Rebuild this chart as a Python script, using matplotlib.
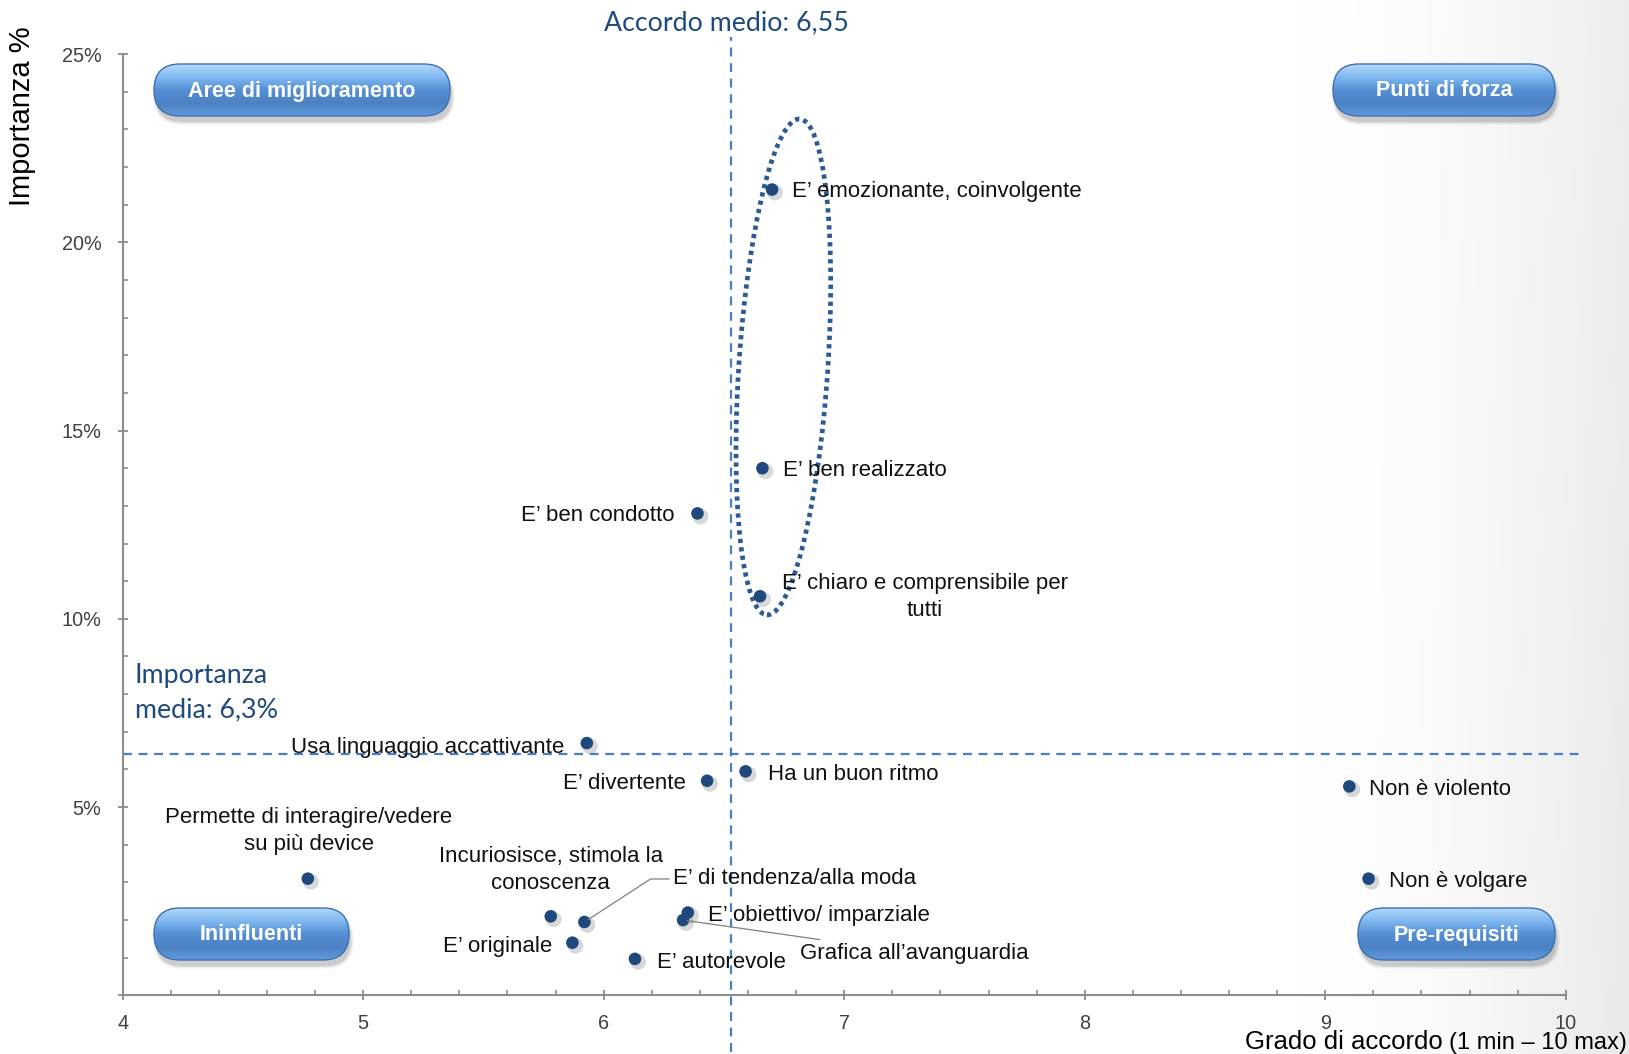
import matplotlib
matplotlib.use('Agg')
import matplotlib.pyplot as plt
import numpy as np
from matplotlib import font_manager
from matplotlib import transforms as mtransforms
from matplotlib.patches import Ellipse, FancyBboxPatch
from matplotlib.ticker import MultipleLocator, FixedLocator, FixedFormatter

# ---------------- data ----------------
labels = [
    "E\u2019 emozionante, coinvolgente",
    "E\u2019 ben realizzato",
    "E\u2019 ben condotto",
    "E\u2019 chiaro e comprensibile per\ntutti",
    "Usa linguaggio accattivante",
    "Ha un buon ritmo",
    "E\u2019 divertente",
    "Non \u00e8 violento",
    "Non \u00e8 volgare",
    "Permette di interagire/vedere\nsu pi\u00f9 device",
    "Incuriosisce, stimola la\nconoscenza",
    "E\u2019 di tendenza/alla moda",
    "E\u2019 obiettivo/ imparziale",
    "Grafica all\u2019avanguardia",
    "E\u2019 originale",
    "E\u2019 autorevole",
]
accordo = [6.70, 6.66, 6.39, 6.65, 5.93, 6.59, 6.43, 9.10, 9.18, 4.77, 5.78, 5.92, 6.35, 6.33, 5.87, 6.13]
importanza = [21.4, 14.0, 12.8, 10.6, 6.7, 5.95, 5.7, 5.55, 3.1, 3.1, 2.1, 1.95, 2.2, 2.0, 1.4, 0.97]

accordo_medio = 6.53
accordo_medio_text = "Accordo medio: 6,55"
importanza_media = 6.4
importanza_media_text = "Importanza\nmedia: 6,3%"

x_ticks = [4, 5, 6, 7, 8, 9, 10]
y_ticks = [0, 5, 10, 15, 20, 25]
y_tick_labels = ["", "5%", "10%", "15%", "20%", "25%"]
quadrant_names = ["Aree di miglioramento", "Punti di forza", "Ininfluenti", "Pre-requisiti"]

# ---------------- layout / style ----------------
W, H = 1629, 1054
DPI = 100
avail = {f.name for f in font_manager.fontManager.ttflist}
SANS = 'Liberation Sans'
NARROW = 'Liberation Sans Narrow' if 'Liberation Sans Narrow' in avail else None
CAL = 'Lato' if 'Lato' in avail else 'DejaVu Sans'
BLUE_TXT = '#1F4A7F'
MARK = '#1F497D'

# label offsets in pixels: (dx, dy, ha, leader)
label_pos = [
    (20, -2, 'left', None),
    (21, -2, 'left', None),
    (-23, -2, 'right', None),
    (165, -1, 'center', None),
    (-23, -4, 'right', None),
    (22, -3, 'left', None),
    (-21, -3, 'right', None),
    (20, -3, 'left', None),
    (20, -3, 'left', None),
    (1, 48, 'center', None),
    (0, 46, 'center', None),
    (89, 43, 'left', 'angle,angleA=0,angleB=33,rad=0'),
    (20, -3, 'left', None),
    (117, -33, 'left', 'arc3,rad=0'),
    (-20, -4, 'right', None),
    (22, -4, 'left', None),
]

plt.rcParams['font.family'] = [SANS, 'DejaVu Sans']
fig = plt.figure(figsize=(W / DPI, H / DPI), dpi=DPI)

# background gradient
bg = fig.add_axes([0, 0, 1, 1], zorder=0)
xs = np.linspace(0, 1, W)
ys = np.linspace(0, 1, H)
gx = np.clip((xs - 0.80) / 0.20, 0, 1) ** 1.6
val = 1 - 0.085 * gx[None, :] * (0.85 + 0.15 * ys[:, None])
bg.imshow(np.dstack([val, val, val]), extent=(0, 1, 0, 1), aspect='auto', origin='upper')
bg.set_axis_off()

# main axes
l, r = 122.6 / W, 1565.8 / W
b, t = 1 - 995.4 / H, 1 - 54.0 / H
ax = fig.add_axes([l, b, r - l, t - b], zorder=1)
ax.set_facecolor('none')
ax.set_xlim(4, 10)
ax.set_ylim(0, 25)
for s in ['top', 'right']:
    ax.spines[s].set_visible(False)
for s in ['left', 'bottom']:
    ax.spines[s].set_color('#8C8C8C')
    ax.spines[s].set_linewidth(1.5)
ax.xaxis.set_major_locator(FixedLocator(x_ticks))
ax.xaxis.set_major_formatter(FixedFormatter([str(v) for v in x_ticks]))
ax.xaxis.set_minor_locator(MultipleLocator(0.2))
ax.yaxis.set_major_locator(FixedLocator(y_ticks))
ax.yaxis.set_major_formatter(FixedFormatter(y_tick_labels))
ax.yaxis.set_minor_locator(MultipleLocator(1))
ax.tick_params(which='major', direction='inout', length=6.5, width=1.3, color='#8C8C8C',
               labelsize=14.3, labelcolor='#404040')
ax.tick_params(which='minor', direction='in', length=3.5, width=1.2, color='#8C8C8C')
ax.tick_params(axis='y', which='major', pad=12)
ax.tick_params(axis='x', which='major', pad=10)

# mean lines
dash_col = '#4A7EC4'
ax.plot([accordo_medio, accordo_medio], [-1.5, 25.45], color=dash_col, lw=1.6,
        linestyle=(0, (4, 3)), clip_on=False, zorder=2)
ax.plot([4, 10.08], [importanza_media, importanza_media], color=dash_col, lw=1.6,
        linestyle=(0, (4, 3)), clip_on=False, zorder=2)

# ellipse (defined in pixel units, centred in data coordinates)
ell_tr = mtransforms.IdentityTransform() + mtransforms.ScaledTranslation(6.747, 16.69, ax.transData)
ell = Ellipse((0, 0), width=89, height=497, angle=-3.8, transform=ell_tr, fill=False,
              edgecolor='#2C5A92', lw=3.4, linestyle=(0, (0.9, 0.9)), zorder=3)
ell.set_capstyle('butt')
ax.add_patch(ell)

# markers with shadow
shadow_tr = ax.transData + mtransforms.ScaledTranslation(3 / DPI, -3 / DPI, fig.dpi_scale_trans)
ax.scatter(accordo, importanza, s=130, color='#7F7F7F', alpha=0.3, transform=shadow_tr,
           edgecolors='none', zorder=4, clip_on=False)
ax.scatter(accordo, importanza, s=82, color=MARK, edgecolors='none', zorder=5, clip_on=False)

# point labels
for lab, xv, yv, (dx, dy, ha, leader) in zip(labels, accordo, importanza, label_pos):
    kw = {}
    if leader is not None:
        kw['arrowprops'] = dict(arrowstyle='-', color='#808080', lw=0.9,
                                connectionstyle=leader, shrinkA=1, shrinkB=3)
    ax.annotate(lab, xy=(xv, yv), xytext=(dx, dy), textcoords='offset pixels',
                ha=ha, va='center', multialignment='center', fontsize=16,
                color='#111111', linespacing=1.38, zorder=6, **kw)

# overlay in pixel coordinates (y downwards)
ov = fig.add_axes([0, 0, 1, 1], zorder=2)
ov.set_xlim(0, W)
ov.set_ylim(H, 0)
ov.set_facecolor('none')
ov.set_axis_off()

ov.text(726, 23, accordo_medio_text, ha='center', va='center', fontsize=19.3,
        color=BLUE_TXT, family=CAL)
ov.text(135, 693, importanza_media_text, ha='left', va='center', fontsize=19.3,
        color=BLUE_TXT, family=CAL, linespacing=1.45)

ov.text(22, 116, "Importanza %", rotation=90, ha='center', va='center', fontsize=21,
        color='#000000')

par = ov.text(1627, 1049, "(1 min \u2013 10 max)", ha='right', va='baseline',
              fontsize=17, color='#000000')
fig.canvas.draw()
bb = par.get_window_extent(fig.canvas.get_renderer())
ov.text(bb.x0 - 6, 1049, "Grado di accordo", ha='right', va='baseline',
        fontsize=18.5, color='#000000')

# quadrant buttons
buttons = [(154, 64, 450, 116), (1333, 64, 1555, 116), (154, 908, 349, 960), (1358, 908, 1555, 960)]
grad_cols = np.array([
    [0.70, 0.85, 0.98],
    [0.50, 0.72, 0.94],
    [0.33, 0.56, 0.83],
    [0.30, 0.51, 0.77],
    [0.38, 0.60, 0.86],
])
stops = np.linspace(0, 1, len(grad_cols))
g = np.linspace(0, 1, 60)
grad = np.stack([np.interp(g, stops, grad_cols[:, k]) for k in range(3)], axis=-1)[:, None, :]

for name, (x0, y0, x1, y1) in zip(quadrant_names, buttons):
    h = y1 - y0
    # shadow
    for k, a in enumerate([0.08, 0.06, 0.045, 0.03]):
        sh = FancyBboxPatch((x0 + 2 - k, y0 + 5 - k + 1), x1 - x0 + 2 * k, h + 2 * k,
                            boxstyle=f"round,pad=0,rounding_size={h / 2 + k}",
                            facecolor='#000000', edgecolor='none', alpha=a, zorder=1)
        ov.add_patch(sh)
    p = FancyBboxPatch((x0, y0), x1 - x0, h, boxstyle=f"round,pad=0,rounding_size={h / 2}",
                       facecolor='none', edgecolor='#3F6FAE', lw=1.0, zorder=3)
    ov.add_patch(p)
    im = ov.imshow(grad, extent=(x0, x1, y1, y0), aspect='auto', origin='upper', zorder=2)
    im.set_clip_path(p)
    if NARROW:
        ov.text((x0 + x1) / 2, (y0 + y1) / 2 + 1, name, ha='center', va='center', color='white',
                fontsize=18, fontweight='bold', family=NARROW, zorder=4)
    else:
        ov.text((x0 + x1) / 2, (y0 + y1) / 2 + 1, name, ha='center', va='center', color='white',
                fontsize=15.5, fontweight='bold', family=SANS, zorder=4)

fig.savefig('out.png', dpi=DPI)
